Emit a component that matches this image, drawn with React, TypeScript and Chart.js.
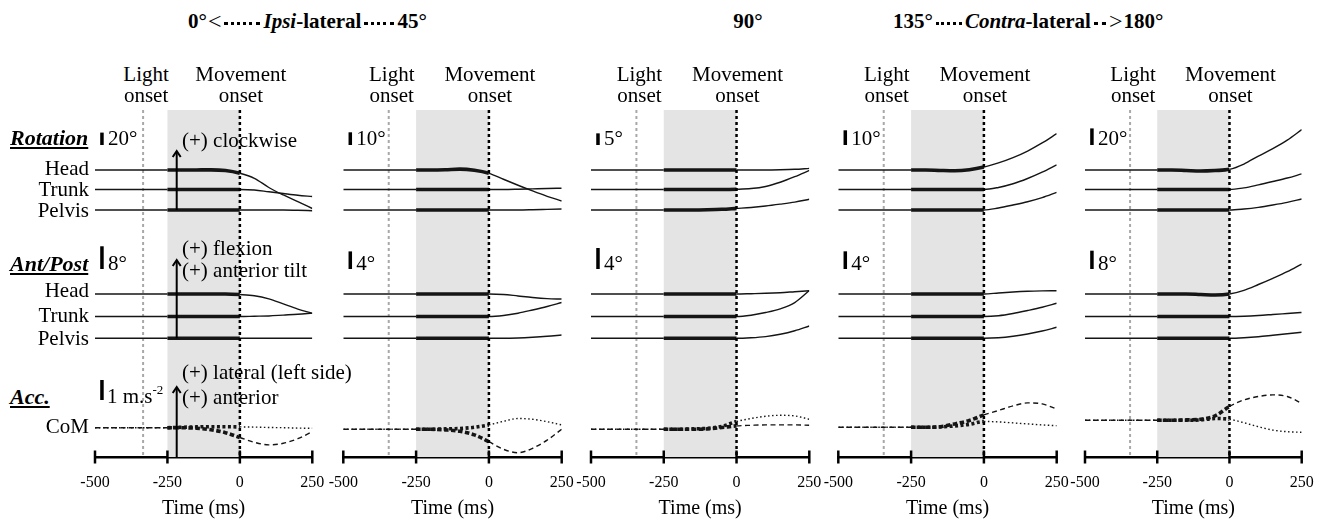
import React, { useEffect, useRef } from 'react';
import { Chart, registerables } from 'chart.js';
Chart.register(...registerables);

const FONT = "'Liberation Serif', 'Times New Roman', serif";
Chart.defaults.font.family = FONT;

// ---------- data ----------
const TIMES = [-500, -250, -200, -150, -100, -50, 0, 50, 100, 150, 200, 250];
const LIGHT_ONSET = [-334, -344, -344, -344, -344];
const MOVE_WINDOW = [-250, 0];
const ROT_BAR_DEG = [20, 10, 5, 10, 20];
const AP_BAR_DEG = [8, 4, 4, 4, 8];
const ACC_BAR = 1;

// rotation (deg)
const ROT_HEAD = [
  [0, 0, 0, 0.1, 0.2, -0.9, -5.3, -13.4, -28.2, -40.3, -51.1, -62.1],
  [0, 0, 0, 0.2, 0.7, -0.2, -2.6, -7.3, -12, -16.5, -20.7, -24.4],
  [0, 0, 0, 0, 0, 0, 0, 0, 0, 0.1, 0.3, 0.7],
  [0, 0, 0, -0.3, -0.5, 0.2, 2.0, 4.8, 8.4, 12.9, 18.4, 24.7],
  [0, 0, 0, -0.6, -1.2, -0.6, 0.8, 7.2, 16.8, 25.8, 36, 48.6],
];
const ROT_TRUNK = [
  [0, 0, 0, 0, 0, 0, 0, -0.8, -3.7, -6.5, -9.2, -11.3],
  [0, 0, 0, 0, 0, 0, 0, 0, 0.2, 0.5, 0.8, 1.0],
  [0, 0, 0, 0, 0, 0, 0.1, 0.4, 1.3, 3.1, 5.5, 8.2],
  [0, 0, 0, 0, 0, 0, 0, 1.4, 3.9, 7.5, 11.8, 16.8],
  [0, 0, 0, 0, 0, 0, 0, 2, 5.6, 9.6, 13.8, 18.8],
];
const ROT_PELVIS = [
  [0, 0, 0, 0, 0, 0, 0, 0, 0, 0, -0.5, -1.1],
  [0, 0, 0, 0, 0, 0, 0, 0, 0, 0.2, 0.5, 0.8],
  [0, 0, 0, 0, 0.1, 0.3, 0.7, 1.1, 1.7, 2.5, 3.4, 4.6],
  [0, 0, 0, 0, 0, 0, 0, 1.4, 3.4, 5.6, 8.4, 12.0],
  [0, 0, 0, 0, 0, 0, 0, 1.2, 3.2, 6, 9.2, 13.2],
];
// anterior / posterior tilt (deg)
const AP_HEAD = [
  [0, 0, 0, 0, 0, 0, -0.2, -0.6, -1.7, -3.5, -5.3, -6.8],
  [0, 0, 0, 0, 0, 0, 0, -0.1, -0.45, -0.8, -1.05, -1.15],
  [0, 0, 0, 0, 0, 0, 0, 0.06, 0.13, 0.25, 0.44, 0.63],
  [0, 0, 0, 0, 0, 0, 0, 0.23, 0.45, 0.61, 0.7, 0.75],
  [0, 0, 0, 0, -0.22, -0.44, 0, 1.62, 4.15, 6.86, 9.74, 13.1],
];
const AP_TRUNK = [
  [0, 0, 0, 0, 0, 0, 0, 0.1, 0.2, 0.5, 0.8, 1.2],
  [0, 0, 0, 0, 0, 0, 0, 0.23, 0.75, 1.48, 2.27, 3.18],
  [0, 0, 0, 0, 0, 0, 0, 0.25, 0.76, 1.46, 2.66, 4.94],
  [0, 0, 0, 0, 0, 0, 0, 0.18, 0.68, 1.36, 2.1, 3.0],
  [0, 0, 0, 0, 0, 0, 0, 0.13, 0.44, 0.87, 1.31, 1.75],
];
const AP_PELVIS = [
  [0, 0, 0, 0, 0, 0, 0, 0, 0, 0, 0, 0],
  [0, 0, 0, 0, 0, 0, 0, 0, 0.07, 0.23, 0.45, 0.75],
  [0, 0, 0, 0, 0, 0, 0, 0.1, 0.32, 0.76, 1.43, 2.34],
  [0, 0, 0, 0, 0, 0, 0, 0.11, 0.45, 0.97, 1.65, 2.49],
  [0, 0, 0, 0, 0, 0, 0, 0.22, 0.66, 1.31, 1.97, 2.62],
];
// CoM acceleration (m.s-2)
const ACC_LAT = [
  [0, 0, 0.02, 0.04, 0.05, 0.05, 0.04, 0.03, 0.01, 0, -0.02, -0.03],
  [0, 0, 0, 0.02, 0.04, 0.1, 0.22, 0.4, 0.54, 0.5, 0.38, 0.22],
  [0, 0, 0, 0.02, 0.05, 0.15, 0.39, 0.54, 0.65, 0.7, 0.67, 0.5],
  [0, 0, 0, 0.02, 0.07, 0.15, 0.29, 0.27, 0.22, 0.17, 0.12, 0.08],
  [0, 0, 0, 0, 0.02, 0.09, 0.05, -0.12, -0.32, -0.49, -0.57, -0.6],
];
const ACC_ANT = [
  [0, 0, 0, -0.03, -0.1, -0.25, -0.49, -0.73, -0.86, -0.78, -0.55, -0.2],
  [0, 0, 0, -0.03, -0.1, -0.28, -0.62, -1.0, -1.17, -0.95, -0.54, 0],
  [0, 0, 0, 0, 0.02, 0.09, 0.17, 0.2, 0.22, 0.22, 0.22, 0.2],
  [0, 0, 0, 0.03, 0.17, 0.34, 0.62, 0.84, 1.07, 1.22, 1.17, 0.92],
  [0, 0, 0, 0.02, 0.05, 0.22, 0.69, 1.02, 1.19, 1.27, 1.19, 0.85],
];

// ---------- layout ----------
const PANEL_X0 = [95, 343.3, 591, 838.3, 1085];
const PANEL_X1 = [312.3, 561.7, 809.3, 1056.7, 1301.7];
const PLOT_TOP = 110;
const PLOT_BOTTOM = 457;
const CANVAS_TOP = 100;
const CANVAS_BOTTOM = 525;
const PAD = 30;
const ROT_BASE = [170, 189.5, 210];
const AP_BASE = [294, 316.5, 338.3];
const COM_BASE = [427.7, 429.3, 429.3, 427.3, 420.3];
const ROT_PX = [0.62, 1.27, 2.33, 1.47, 0.83];
const AP_PX = [2.84, 4.4, 5.25, 4.42, 2.29];
const ACC_PX = 20;
const THIN = 1.4;
const THICK = 3.6;

const xOf = (i: number, t: number) =>
  PANEL_X0[i] + ((t + 500) * (PANEL_X1[i] - PANEL_X0[i])) / 750;

function axisFor(base: number, px: number) {
  return {
    type: 'linear' as const,
    axis: 'y' as const,
    position: 'left' as const,
    display: false,
    min: -(PLOT_BOTTOM - base) / px,
    max: (base - PLOT_TOP) / px,
  };
}

const inWin = (c: any) =>
  c.p0.parsed.x >= MOVE_WINDOW[0] && c.p1.parsed.x <= MOVE_WINDOW[1];

function trace(vals: number[], axis: string, dash: number[] = [], thickDash: number[] = []) {
  return {
    data: TIMES.map((t, j) => ({ x: t, y: vals[j] })),
    xAxisID: 'x',
    yAxisID: axis,
    borderColor: '#151515',
    borderWidth: THIN,
    borderDash: dash,
    pointRadius: 0,
    fill: false,
    cubicInterpolationMode: 'monotone' as const,
    segment: {
      borderWidth: (c: any) => (inWin(c) ? THICK : THIN),
      borderDash: (c: any) => (inWin(c) ? thickDash : dash),
    },
  };
}

function seg(ctx: CanvasRenderingContext2D, x1: number, y1: number, x2: number, y2: number) {
  ctx.beginPath();
  ctx.moveTo(x1, y1);
  ctx.lineTo(x2, y2);
  ctx.stroke();
}

function decor(i: number) {
  return {
    id: 'decor' + i,
    beforeDatasetsDraw(chart: any) {
      const { ctx, chartArea: ca, scales } = chart;
      const x = scales.x;
      const xa = x.getPixelForValue(MOVE_WINDOW[0]);
      const xb = x.getPixelForValue(MOVE_WINDOW[1]);
      ctx.save();
      ctx.fillStyle = '#e4e4e4';
      ctx.fillRect(xa, ca.top, xb - xa, ca.bottom - ca.top);
      const xl = x.getPixelForValue(LIGHT_ONSET[i]);
      ctx.lineWidth = 2;
      ctx.setLineDash([3, 3]);
      ctx.strokeStyle = '#a8a8a8';
      seg(ctx, xl, ca.top, xl, ca.bottom);
      ctx.restore();
    },
    afterDatasetsDraw(chart: any) {
      const { ctx, chartArea: ca, scales } = chart;
      const x = scales.x;
      const xb = x.getPixelForValue(MOVE_WINDOW[1]);
      ctx.save();
      ctx.lineWidth = 2.5;
      ctx.setLineDash([3, 3]);
      ctx.strokeStyle = '#000';
      seg(ctx, xb, ca.top, xb, ca.bottom);
      ctx.restore();
    },
    afterDraw(chart: any) {
      const { ctx, chartArea: ca, scales } = chart;
      const x = scales.x;
      ctx.save();
      ctx.strokeStyle = '#000';
      ctx.fillStyle = '#000';
      ctx.lineWidth = 2.5;
      for (const tk of x.ticks) {
        const px = x.getPixelForValue(tk.value);
        seg(ctx, px, ca.bottom - 6.5, px, ca.bottom + 6.5);
      }
      const bx = x.getPixelForValue(-476);
      const bar = (axis: any, bottomPage: number, len: number) => {
        const bPx = bottomPage - CANVAS_TOP;
        const v0 = axis.getValueForPixel(bPx);
        const tPx = axis.getPixelForValue(v0 + len);
        ctx.fillRect(bx - 1.75, tPx, 3.5, bPx - tPx);
      };
      bar(scales.yRH, 145, ROT_BAR_DEG[i]);
      bar(scales.yAH, 269, AP_BAR_DEG[i]);
      if (i === 0) {
        bar(scales.yACC, 400, ACC_BAR);
        const ax = x.getPixelForValue(-218);
        ctx.lineWidth = 2;
        const arrow = (bottom: number, topPage: number) => {
          const top = topPage - CANVAS_TOP;
          seg(ctx, ax, bottom, ax, top + 1);
          ctx.beginPath();
          ctx.moveTo(ax - 4, top + 6);
          ctx.lineTo(ax, top);
          ctx.lineTo(ax + 4, top + 6);
          ctx.stroke();
        };
        arrow(scales.yRP.getPixelForValue(0), 151);
        arrow(scales.yAP.getPixelForValue(0), 260);
        arrow(ca.bottom, 387);
      }
      ctx.restore();
    },
  };
}

function geom(i: number) {
  const x0 = PANEL_X0[i];
  const x1 = PANEL_X1[i];
  const left = Math.floor(x0 - PAD);
  const padL = x0 - left;
  const width = Math.ceil(x1 + PAD) - left;
  const padR = width - padL - (x1 - x0);
  return { left, width, padL, padR };
}

function Panel({ i }: { i: number }) {
  const ref = useRef<HTMLCanvasElement>(null);
  const g = geom(i);
  const height = CANVAS_BOTTOM - CANVAS_TOP;
  useEffect(() => {
    const canvas = ref.current;
    if (!canvas) return;
    const chart = new Chart(canvas, {
      type: 'line',
      data: {
        datasets: [
          trace(ROT_HEAD[i], 'yRH'),
          trace(ROT_TRUNK[i], 'yRT'),
          trace(ROT_PELVIS[i], 'yRP'),
          trace(AP_HEAD[i], 'yAH'),
          trace(AP_TRUNK[i], 'yAT'),
          trace(AP_PELVIS[i], 'yAP'),
          trace(ACC_LAT[i], 'yACC', [1.5, 2.5], [3, 2.5]),
          trace(ACC_ANT[i], 'yACC', [5, 3.5], [4.5, 2.5]),
        ] as any,
      },
      options: {
        animation: false,
        responsive: false,
        maintainAspectRatio: false,
        events: [],
        layout: {
          padding: { left: g.padL, right: g.padR, top: PLOT_TOP - CANVAS_TOP, bottom: 0 },
        },
        plugins: { legend: { display: false }, tooltip: { enabled: false } },
        scales: {
          x: {
            type: 'linear',
            axis: 'x',
            position: 'bottom',
            min: -500,
            max: 250,
            afterFit: (s: any) => {
              s.height = CANVAS_BOTTOM - PLOT_BOTTOM;
            },
            grid: { display: false },
            border: { display: true, color: '#000', width: 2.5 },
            ticks: {
              stepSize: 250,
              color: '#000',
              font: { family: FONT, size: 16 },
              padding: 8,
              maxRotation: 0,
              autoSkip: false,
            },
            title: {
              display: true,
              text: 'Time (ms)',
              color: '#000',
              font: { family: FONT, size: 20 },
              padding: { top: 0, bottom: 4 },
            },
          },
          yRH: axisFor(ROT_BASE[0], ROT_PX[i]),
          yRT: axisFor(ROT_BASE[1], ROT_PX[i]),
          yRP: axisFor(ROT_BASE[2], ROT_PX[i]),
          yAH: axisFor(AP_BASE[0], AP_PX[i]),
          yAT: axisFor(AP_BASE[1], AP_PX[i]),
          yAP: axisFor(AP_BASE[2], AP_PX[i]),
          yACC: axisFor(COM_BASE[i], ACC_PX),
        } as any,
      },
      plugins: [decor(i)],
    });
    let alive = true;
    if ((document as any).fonts && (document as any).fonts.load) {
      Promise.all([
        (document as any).fonts.load('16px "Liberation Serif"'),
        (document as any).fonts.load('20px "Liberation Serif"'),
      ]).then(() => {
        if (alive) chart.update();
      }).catch(() => {});
    }
    return () => {
      alive = false;
      chart.destroy();
    };
  }, [i]);
  return (
    <canvas
      ref={ref}
      width={g.width}
      height={height}
      style={{ position: 'absolute', left: g.left, top: CANVAS_TOP, width: g.width, height }}
    />
  );
}

type TP = {
  x: number;
  y: number;
  a?: 'left' | 'center' | 'right';
  s?: number;
  b?: boolean;
  it?: boolean;
  u?: boolean;
  children: React.ReactNode;
};
function T({ x, y, a = 'left', s = 21, b = false, it = false, u = false, children }: TP) {
  const tx = a === 'left' ? '0' : a === 'center' ? '-50%' : '-100%';
  return (
    <div
      style={{
        position: 'absolute',
        left: x,
        top: y,
        transform: `translate(${tx}, -50%)`,
        fontFamily: FONT,
        fontSize: s,
        fontWeight: b ? 'bold' : 'normal',
        fontStyle: it ? 'italic' : 'normal',
        textDecoration: u ? 'underline' : 'none',
        textDecorationThickness: u ? 2 : undefined,
        textUnderlineOffset: u ? 2 : undefined,
        lineHeight: 1,
        whiteSpace: 'nowrap',
        color: '#000',
      }}
    >
      {children}
    </div>
  );
}

function Dots({ w }: { w: number }) {
  return (
    <span
      style={{
        display: 'inline-block',
        width: w,
        height: 0,
        borderTop: '3px dotted #000',
        margin: '0 3px',
        position: 'relative',
        top: 2,
      }}
    />
  );
}

const HEADER_STYLE: React.CSSProperties = {
  position: 'absolute',
  top: 21,
  transform: 'translateY(-50%)',
  display: 'flex',
  alignItems: 'center',
  fontFamily: FONT,
  fontSize: 21,
  fontWeight: 'bold',
  lineHeight: 1,
  whiteSpace: 'nowrap',
};

export default function App() {
  const panels = [0, 1, 2, 3, 4];
  return (
    <div
      style={{
        position: 'absolute',
        left: 0,
        top: 0,
        width: 1318,
        height: 525,
        background: '#fff',
        overflow: 'hidden',
      }}
    >
      {panels.map((i) => (
        <Panel key={i} i={i} />
      ))}

      {/* header */}
      <div style={{ ...HEADER_STYLE, left: 188 }}>
        <span>0°</span>
        <span style={{ fontWeight: 'normal', fontSize: 24, marginLeft: 1 }}>&lt;</span>
        <Dots w={36} />
        <span>
          <i>Ipsi</i>-lateral
        </span>
        <Dots w={30} />
        <span>45°</span>
      </div>
      <div style={{ ...HEADER_STYLE, left: 748, transform: 'translate(-50%, -50%)' }}>90°</div>
      <div style={{ ...HEADER_STYLE, left: 893 }}>
        <span>135°</span>
        <Dots w={26} />
        <span>
          <i>Contra</i>-lateral
        </span>
        <Dots w={12} />
        <span style={{ fontWeight: 'normal', fontSize: 24, marginRight: 1 }}>&gt;</span>
        <span>180°</span>
      </div>

      {/* onset labels */}
      {panels.map((i) => (
        <React.Fragment key={'on' + i}>
          <T x={xOf(i, LIGHT_ONSET[i]) + 3} y={74} a="center">Light</T>
          <T x={xOf(i, LIGHT_ONSET[i]) + 3} y={95} a="center">onset</T>
          <T x={xOf(i, 0) + 1} y={74} a="center">Movement</T>
          <T x={xOf(i, 0) + 1} y={95} a="center">onset</T>
          <T x={PANEL_X0[i] + 13} y={138}>{ROT_BAR_DEG[i]}°</T>
          <T x={PANEL_X0[i] + 13} y={263}>{AP_BAR_DEG[i]}°</T>
        </React.Fragment>
      ))}

      {/* left labels */}
      <T x={10} y={138} s={22} b it u>Rotation</T>
      <T x={10} y={264} s={22} b it u>Ant/Post</T>
      <T x={10} y={397} s={22} b it u>Acc.</T>
      <T x={89} y={168} a="right">Head</T>
      <T x={89} y={189} a="right">Trunk</T>
      <T x={89} y={210} a="right">Pelvis</T>
      <T x={89} y={290} a="right">Head</T>
      <T x={89} y={314.5} a="right">Trunk</T>
      <T x={89} y={337.5} a="right">Pelvis</T>
      <T x={89} y={425.5} a="right">CoM</T>
      <T x={107} y={396}>
        1 m.s<sup style={{ fontSize: 13, verticalAlign: 'top', position: 'relative', top: -3 }}>-2</sup>
      </T>

      {/* direction annotations */}
      <T x={182} y={140}>(+) clockwise</T>
      <T x={182} y={248}>(+) flexion</T>
      <T x={182} y={270}>(+) anterior tilt</T>
      <T x={182} y={372}>(+) lateral (left side)</T>
      <T x={182} y={397}>(+) anterior</T>
    </div>
  );
}
